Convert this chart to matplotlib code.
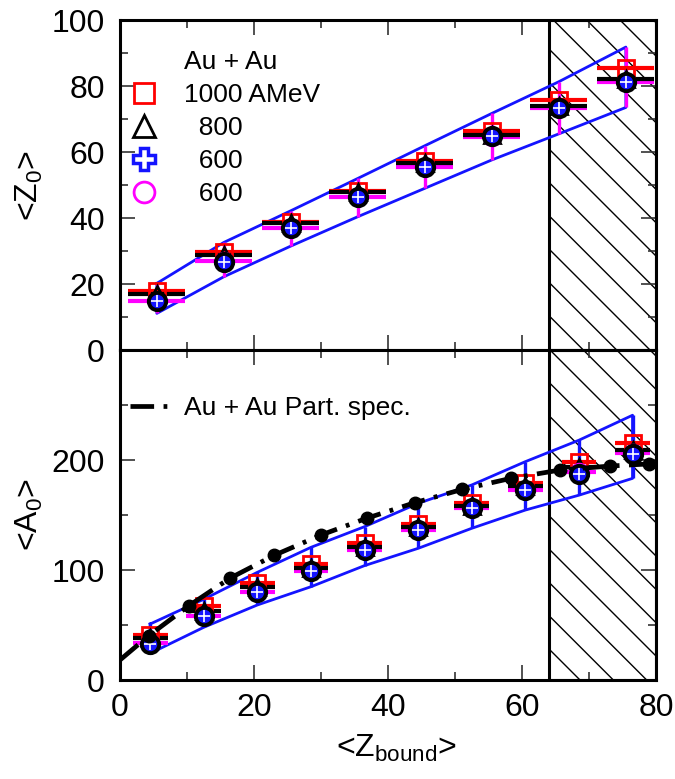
import matplotlib
matplotlib.use('Agg')
import matplotlib.pyplot as plt
from matplotlib.lines import Line2D
from matplotlib.ticker import MultipleLocator
import numpy as np

plt.rcParams['font.family'] = ['Liberation Sans', 'DejaVu Sans']
plt.rcParams['mathtext.default'] = 'regular'
plt.rcParams['hatch.linewidth'] = 1.0

# ---------------- data: top panel <Z0> ----------------
zb_top = [5.5, 15.5, 25.5, 35.5, 45.5, 55.5, 65.5, 75.5]
z0_1000 = [17.8, 29.8, 38.9, 48.2, 57.2, 66.5, 75.8, 85.4]
z0_800 = [16.9, 28.8, 38.4, 47.8, 56.8, 65.3, 74.0, 82.0]
z0_600b = [14.9, 26.8, 36.9, 46.3, 55.5, 64.8, 73.4, 81.2]
z0_600m = [14.8, 27.0, 36.9, 46.3, 55.5, 64.6, 73.2, 81.3]
z0_lo = [11.1, 22.2, 31.5, 40.4, 49.0, 57.6, 65.5, 73.5]
z0_hi = [20.2, 32.6, 42.2, 52.0, 61.9, 71.7, 81.3, 91.8]
xerr_top = 4.25

# ---------------- data: bottom panel <A0> ----------------
zb_bot = [4.5, 12.5, 20.5, 28.5, 36.5, 44.5, 52.5, 60.5, 68.5, 76.5]
a0_1000 = [41.0, 67.6, 87.9, 105.5, 124.2, 141.8, 160.6, 179.4, 198.5, 215.7]
a0_800 = [37.9, 62.7, 84.8, 101.5, 121.2, 139.4, 158.2, 176.4, 193.4, 209.0]
a0_600b = [32.7, 58.2, 79.7, 99.4, 117.9, 136.4, 156.1, 172.7, 186.9, 205.5]
a0_600m = [33.4, 58.2, 79.7, 99.4, 118.0, 136.5, 156.0, 173.0, 189.4, 206.6]
a0_lo = [24.2, 47.9, 68.2, 84.8, 104.0, 119.7, 137.9, 154.5, 168.0, 183.3]
a0_hi = [50.9, 73.4, 97.9, 120.6, 139.4, 160.6, 177.3, 198.5, 218.0, 240.7]
xerr_bot = 2.6

# participant spectator curve
spec_x = [0.0, 4.3, 10.3, 16.4, 23.0, 30.0, 36.8, 44.0, 51.1, 58.4, 65.7, 73.1, 78.9]
spec_y = [18.2, 40.3, 67.6, 92.5, 113.3, 131.8, 147.0, 161.2, 173.3, 183.4, 190.9, 194.5, 196.4]

hatch_range = (64, 80)

RED = '#ff0000'
MAG = '#ff00ff'
BLUE = '#1414ff'

fig = plt.figure(figsize=(6.75, 7.79), dpi=100)
L, R = 120 / 675, 656 / 675
ax1 = fig.add_axes([L, 1 - 350 / 779, R - L, 330 / 779])
ax2 = fig.add_axes([L, 1 - 680 / 779, R - L, 330 / 779])


def draw_panel(ax, x, y1000, y800, y600b, y600m, lo, hi, xerr, vcolor, vseries):
    # band
    xs = list(x) + list(x[::-1]) + [x[0]]
    ys = list(hi) + list(lo[::-1]) + [hi[0]]
    ax.plot(xs, ys, color=BLUE, lw=2.0, zorder=2)
    # vertical error bars
    yv = np.array(vseries)
    ax.errorbar(x, yv, yerr=[yv - np.array(lo), np.array(hi) - yv], fmt='none',
                ecolor=vcolor, elinewidth=2.4, capsize=0, zorder=3)
    # horizontal bars
    ax.errorbar(x, y600m, xerr=xerr, fmt='none', ecolor=MAG, elinewidth=3, capsize=0, zorder=3)
    ax.errorbar(x, y1000, xerr=xerr, fmt='none', ecolor=RED, elinewidth=3, capsize=0, zorder=3)
    ax.errorbar(x, y800, xerr=xerr, fmt='none', ecolor='black', elinewidth=3, capsize=0, zorder=3)
    # markers
    ax.plot(x, y1000, ls='none', marker='s', ms=11.5, mfc='none', mec=RED, mew=2, zorder=4)
    ax.plot(x, y800, ls='none', marker='^', ms=11, mfc='none', mec='black', mew=2, zorder=4)
    ax.plot(x, y600m, ls='none', marker='o', ms=12, mfc='none', mec=MAG, mew=2, zorder=4)
    ax.plot(x, y600b, ls='none', marker='o', ms=12.5, mfc=BLUE, mec='black', mew=2.8, zorder=5)
    ax.plot(x, y600b, ls='none', marker='+', ms=8, mec='white', mew=1.2, zorder=6)
    # hatched region
    ax.axvspan(*hatch_range, facecolor='none', edgecolor='black', hatch='\\',
               lw=2.2, zorder=1)


draw_panel(ax1, zb_top, z0_1000, z0_800, z0_600b, z0_600m, z0_lo, z0_hi, xerr_top, MAG, z0_600m)
draw_panel(ax2, zb_bot, a0_1000, a0_800, a0_600b, a0_600m, a0_lo, a0_hi, xerr_bot, BLUE, a0_600b)

# participant spectator curve
ax2.plot(spec_x, spec_y, color='black', lw=3.4, dashes=(5, 2, 0.8, 2), zorder=7,
         label='Au + Au Part. spec.')
ax2.plot(spec_x[1:], spec_y[1:], ls='none', marker='o', ms=9, color='black', zorder=8)

for ax in (ax1, ax2):
    ax.set_xlim(0, 80)
    ax.xaxis.set_major_locator(MultipleLocator(20))
    ax.xaxis.set_minor_locator(MultipleLocator(10))
    ax.tick_params(which='both', direction='in', top=True, right=True,
                   labelsize=23, color='#333333', width=1.2)
    ax.tick_params(which='major', length=11)
    ax.tick_params(which='minor', length=6)
    ax.tick_params(axis='y', pad=11)
    ax.tick_params(axis='x', pad=9)
    for s in ax.spines.values():
        s.set_linewidth(2.2)

ax1.set_ylim(0, 100)
ax1.yaxis.set_major_locator(MultipleLocator(20))
ax1.yaxis.set_minor_locator(MultipleLocator(10))
ax1.tick_params(labelbottom=False)

ax2.set_ylim(0, 300)
ax2.set_yticks([0, 100, 200])
ax2.yaxis.set_minor_locator(MultipleLocator(50))

ax1.set_ylabel('<Z$_0$>', fontsize=23)
ax2.set_ylabel('<A$_0$>', fontsize=23)
ax1.yaxis.set_label_coords(-0.14, 0.5)
ax2.yaxis.set_label_coords(-0.14, 0.5)
ax2.set_xlabel('<Z$_{bound}$>', fontsize=23)
ax2.xaxis.set_label_coords(0.515, -0.16)

# legends
handles1 = [
    Line2D([], [], ls='none'),
    Line2D([], [], ls='none', marker='s', ms=14, mfc='none', mec=RED, mew=2),
    Line2D([], [], ls='none', marker='^', ms=16, mfc='none', mec='black', mew=2),
    Line2D([], [], ls='none', marker='P', ms=16, mfc='white', mec=BLUE, mew=2.5),
    Line2D([], [], ls='none', marker='o', ms=15, mfc='none', mec=MAG, mew=2),
]
labels1 = ['Au + Au', '1000 AMeV', '  800', '  600', '  600']
ax1.legend(handles1, labels1, loc='upper left', bbox_to_anchor=(0.006, 0.909),
           frameon=False, fontsize=19, handlelength=1.6, handletextpad=0.7,
           borderpad=0, borderaxespad=0, labelspacing=0.34)

ax2.legend(loc='upper left', bbox_to_anchor=(0.019, 0.86), frameon=False, fontsize=19,
           handlelength=1.7, handletextpad=0.35, borderpad=0, borderaxespad=0)

fig.savefig('out.png', dpi=100)
